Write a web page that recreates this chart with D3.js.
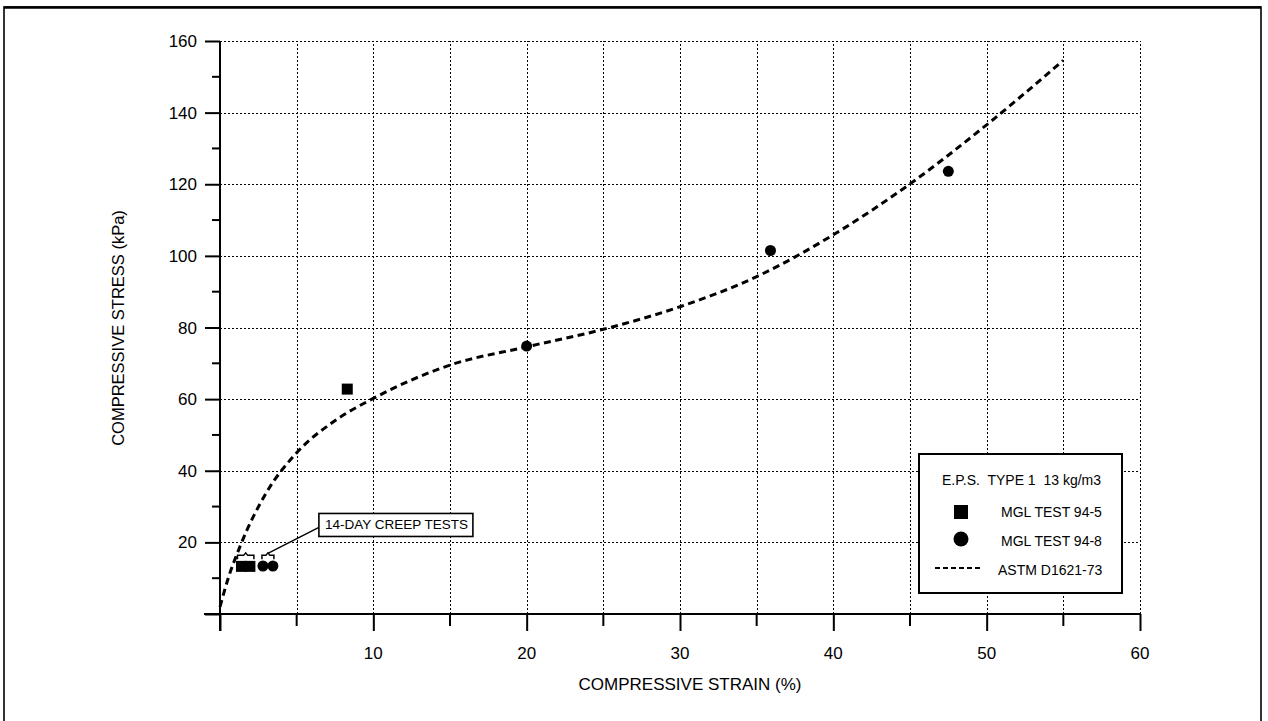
<!DOCTYPE html>
<html>
<head>
<meta charset="utf-8">
<script src="https://cdn.jsdelivr.net/npm/d3@7.9.0/dist/d3.min.js"></script>
<style>
  html, body { margin: 0; padding: 0; background: #fff; }
  svg { display: block; font-family: "Liberation Sans", Arial, sans-serif; }
</style>
</head>
<body>
<div id="chart"></div>
<script>
// ASTM D1621-73 fitted curve
const curveStrain = [0, 0.5, 1.3, 3, 5, 7.4, 10, 15, 20, 25, 30, 35, 40, 45, 50, 55];
const curveStress = [2, 9.5, 18.8, 33.7, 45, 53.7, 60.2, 69.5, 74.6, 79.5, 85.8, 94.2, 105.9, 120.1, 136.6, 154.6];

// MGL TEST 94-5 (squares)
const squareStrain = [1.4, 1.95, 8.3];
const squareStress = [13.3, 13.3, 62.8];

// MGL TEST 94-8 (circles)
const circleStrain = [2.8, 3.45, 20, 35.9, 47.5];
const circleStress = [13.4, 13.4, 74.8, 101.5, 123.6];

// ticks
const xMajorTicks = [0, 10, 20, 30, 40, 50, 60];
const xMinorTicks = [5, 15, 25, 35, 45, 55];
const xLabelTicks = [10, 20, 30, 40, 50, 60];
const yMajorTicks = [0, 20, 40, 60, 80, 100, 120, 140, 160];
const yMinorTicks = [10, 30, 50, 70, 90, 110, 130, 150];
const yLabelTicks = [20, 40, 60, 80, 100, 120, 140, 160];
const xGrid = [5, 10, 15, 20, 25, 30, 35, 40, 45, 50, 55, 60];
const yGrid = [20, 40, 60, 80, 100, 120, 140, 160];

const legendTitle = "E.P.S.  TYPE 1  13 kg/m3";
const legendLabels = ["MGL TEST 94-5", "MGL TEST 94-8", "ASTM D1621-73"];
const noteText = "14-DAY CREEP TESTS";

const width = 1268, height = 721;

const svg = d3.select("#chart").append("svg")
    .attr("width", width)
    .attr("height", height);

// outer frame
svg.append("rect")
    .attr("x", 4).attr("y", 7)
    .attr("width", 1257).attr("height", 740)
    .attr("fill", "none")
    .attr("stroke", "#000")
    .attr("stroke-width", 1.6);
svg.append("line")
    .attr("x1", 4).attr("x2", 1261).attr("y1", 7.5).attr("y2", 7.5)
    .attr("stroke", "#000").attr("stroke-width", 2.5);

const x = d3.scaleLinear().domain([0, 60]).range([220, 1140]);
const y = d3.scaleLinear().domain([0, 160]).range([614, 41]);

// dotted gridlines
const grid = svg.append("g")
    .attr("stroke", "#000")
    .attr("stroke-width", 1.2)
    .attr("shape-rendering", "crispEdges")
    .attr("stroke-dasharray", "2,2");

grid.selectAll(".vg").data(xGrid).join("line")
    .attr("x1", d => Math.round(x(d)) + 0.5).attr("x2", d => Math.round(x(d)) + 0.5)
    .attr("y1", y(0)).attr("y2", y(160));

grid.selectAll(".hg").data(yGrid).join("line")
    .attr("x1", x(0)).attr("x2", x(60))
    .attr("y1", d => Math.round(y(d)) + 0.5).attr("y2", d => Math.round(y(d)) + 0.5);

// x axis
const xAxis = svg.append("g").attr("transform", `translate(0,${y(0)})`);
xAxis.call(d3.axisBottom(x).tickValues(xMajorTicks).tickSize(17).tickFormat(""));
xAxis.call(g => g.select(".domain").remove());
xAxis.selectAll(".tick line").attr("stroke-width", 2);
xAxis.selectAll(".minor").data(xMinorTicks).join("line")
    .attr("x1", d => x(d)).attr("x2", d => x(d))
    .attr("y1", 0).attr("y2", 12)
    .attr("stroke", "#000").attr("stroke-width", 2);
xAxis.append("line")
    .attr("x1", x(0) - 16).attr("x2", x(60))
    .attr("stroke", "#000").attr("stroke-width", 2.2);

svg.append("g").selectAll("text").data(xLabelTicks).join("text")
    .attr("x", d => x(d))
    .attr("y", 659)
    .attr("text-anchor", "middle")
    .attr("font-size", 17)
    .text(d => d);

// y axis
const yAxis = svg.append("g").attr("transform", `translate(${x(0)},0)`);
yAxis.call(d3.axisLeft(y).tickValues(yMajorTicks).tickSize(15).tickFormat(""));
yAxis.call(g => g.select(".domain").remove());
yAxis.selectAll(".tick line").attr("stroke-width", 2);
yAxis.selectAll(".minor").data(yMinorTicks).join("line")
    .attr("x1", 0).attr("x2", -8)
    .attr("y1", d => y(d)).attr("y2", d => y(d))
    .attr("stroke", "#000").attr("stroke-width", 2);
yAxis.append("line")
    .attr("y1", y(160)).attr("y2", y(0) + 17)
    .attr("stroke", "#000").attr("stroke-width", 2);

svg.append("g").selectAll("text").data(yLabelTicks).join("text")
    .attr("x", 197)
    .attr("y", d => y(d))
    .attr("dy", "0.36em")
    .attr("text-anchor", "end")
    .attr("font-size", 17)
    .text(d => d);

// axis titles
svg.append("text")
    .attr("x", 690).attr("y", 690)
    .attr("text-anchor", "middle")
    .attr("font-size", 17)
    .text("COMPRESSIVE STRAIN (%)");

svg.append("text")
    .attr("transform", `translate(124,328) rotate(-90)`)
    .attr("text-anchor", "middle")
    .attr("font-size", 16.5)
    .text("COMPRESSIVE STRESS (kPa)");

// fitted curve
const curveData = curveStrain.map((s, i) => [s, curveStress[i]]);
const line = d3.line()
    .x(d => x(d[0]))
    .y(d => y(d[1]))
    .curve(d3.curveMonotoneX);

svg.append("path")
    .datum(curveData)
    .attr("fill", "none")
    .attr("stroke", "#000")
    .attr("stroke-width", 3)
    .attr("stroke-dasharray", "7,4.5")
    .attr("d", line);

// squares
const sq = 11;
svg.append("g").selectAll("rect")
    .data(squareStrain.map((s, i) => [s, squareStress[i]]))
    .join("rect")
    .attr("x", d => x(d[0]) - sq / 2)
    .attr("y", d => y(d[1]) - sq / 2)
    .attr("width", sq).attr("height", sq)
    .attr("fill", "#000");

// circles
svg.append("g").selectAll("circle")
    .data(circleStrain.map((s, i) => [s, circleStress[i]]))
    .join("circle")
    .attr("cx", d => x(d[0]))
    .attr("cy", d => y(d[1]))
    .attr("r", 5.5)
    .attr("fill", "#000");

// braces over the creep test pairs
function brace(x0, x1, yy) {
    const xm = (x0 + x1) / 2;
    return `M${x0},${yy + 4}L${x0},${yy}L${xm - 2},${yy}L${xm},${yy - 2.5}L${xm + 2},${yy}L${x1},${yy}L${x1},${yy + 4}`;
}
const braceY = y(squareStress[0]) - 11;
svg.append("path")
    .attr("d", brace(x(squareStrain[0]) - 4, x(squareStrain[1]) + 4, braceY))
    .attr("fill", "none").attr("stroke", "#000").attr("stroke-width", 1.5);
svg.append("path")
    .attr("d", brace(x(circleStrain[0]) - 1, x(circleStrain[1]) + 1, braceY))
    .attr("fill", "none").attr("stroke", "#000").attr("stroke-width", 1.5);

// note box with leader
const noteX = x(6.45), noteY = y(25);
svg.append("line")
    .attr("x1", x((circleStrain[0] + circleStrain[1]) / 2)).attr("y1", braceY - 2)
    .attr("x2", noteX).attr("y2", noteY + 3)
    .attr("stroke", "#000").attr("stroke-width", 1.4);
svg.append("rect")
    .attr("x", noteX).attr("y", noteY - 11)
    .attr("width", 154).attr("height", 23)
    .attr("fill", "#fff").attr("stroke", "#000").attr("stroke-width", 1.6);
svg.append("text")
    .attr("x", noteX + 6).attr("y", noteY + 5)
    .attr("font-size", 13.5)
    .text(noteText);

// legend
const lg = svg.append("g").attr("transform", "translate(919,454)");
lg.append("rect")
    .attr("width", 203).attr("height", 139)
    .attr("fill", "#fff").attr("stroke", "#000").attr("stroke-width", 2);
lg.append("text")
    .attr("x", 23).attr("y", 31)
    .attr("font-size", 14)
    .attr("xml:space", "preserve")
    .style("white-space", "pre")
    .text(legendTitle);
lg.append("rect")
    .attr("x", 35).attr("y", 51).attr("width", 14).attr("height", 14)
    .attr("fill", "#000");
lg.append("circle")
    .attr("cx", 42).attr("cy", 85).attr("r", 7.5)
    .attr("fill", "#000");
lg.append("line")
    .attr("x1", 16).attr("x2", 62).attr("y1", 114).attr("y2", 114)
    .attr("stroke", "#000").attr("stroke-width", 2)
    .attr("stroke-dasharray", "5,3");
lg.selectAll(".lbl").data(legendLabels).join("text")
    .attr("x", (d, i) => i < 2 ? 82 : 79)
    .attr("y", (d, i) => 63 + i * 29)
    .attr("font-size", 14)
    .text(d => d);
</script>
</body>
</html>
